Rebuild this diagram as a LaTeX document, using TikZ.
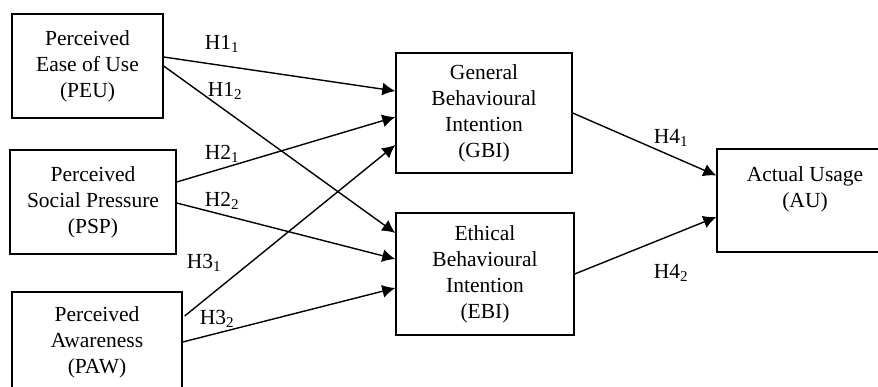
\documentclass[tikz,border=0pt]{standalone}
\usepackage{fontspec}
\setmainfont{Liberation Serif}
\usetikzlibrary{arrows.meta}
\begin{document}
\begin{tikzpicture}[x=1pt,y=-1pt,
  box/.style={draw,line width=1.4pt,align=center,inner sep=0pt,
    font=\fontsize{21.5}{26}\selectfont},
  hlab/.style={inner sep=0pt,font=\fontsize{21.5}{26}\selectfont},
  link/.style={line width=1.4pt,-{Latex[length=13pt,width=13pt]}}]
\useasboundingbox (0,0) rectangle (878,387);
\clip (0,0) rectangle (878,387);
\node[box,minimum width=151,minimum height=104] (peu) at (87.5,66) {Perceived\\Ease of Use\\(PEU)};
\node[box,minimum width=166,minimum height=104] (psp) at (93,202) {Perceived\\Social Pressure\\(PSP)};
\node[box,minimum width=170,minimum height=100] (paw) at (97,342) {Perceived\\Awareness\\(PAW)};
\node[box,minimum width=176,minimum height=120] (gbi) at (484,113) {General\\Behavioural\\Intention\\(GBI)};
\node[box,minimum width=178,minimum height=122] (ebi) at (485,274) {Ethical\\Behavioural\\Intention\\(EBI)};
\node[box,minimum width=176,minimum height=103] (au) at (805,200.5) {Actual Usage\\(AU)\\\mbox{}};
\draw[link] ([yshift=9pt]peu.east) -- ([yshift=22pt]gbi.west);
\draw[link] (peu.east) -- ([yshift=41pt]ebi.west);
\draw[link] ([yshift=20pt]psp.east) -- ([yshift=-4pt]gbi.west);
\draw[link] ([yshift=-1pt]psp.east) -- ([yshift=15pt]ebi.west);
\draw[link] ([xshift=2pt,yshift=26pt]paw.east) -- ([yshift=-32pt]gbi.west);
\draw[link] (paw.east) -- ([yshift=-14pt]ebi.west);
\draw[link] (gbi.east) -- ([yshift=25pt]au.west);
\draw[link] (ebi.east) -- ([yshift=-16.5pt]au.west);
\node[hlab] (h11) at (222,44) {H1\textsubscript{1}};
\node[hlab] (h12) at (225,91) {H1\textsubscript{2}};
\node[hlab] (h21) at (222,154) {H2\textsubscript{1}};
\node[hlab] (h22) at (222,201) {H2\textsubscript{2}};
\node[hlab] (h31) at (204,263) {H3\textsubscript{1}};
\node[hlab] (h32) at (217,319) {H3\textsubscript{2}};
\node[hlab] (h41) at (671,138) {H4\textsubscript{1}};
\node[hlab] (h42) at (671,273) {H4\textsubscript{2}};
\end{tikzpicture}
\end{document}
